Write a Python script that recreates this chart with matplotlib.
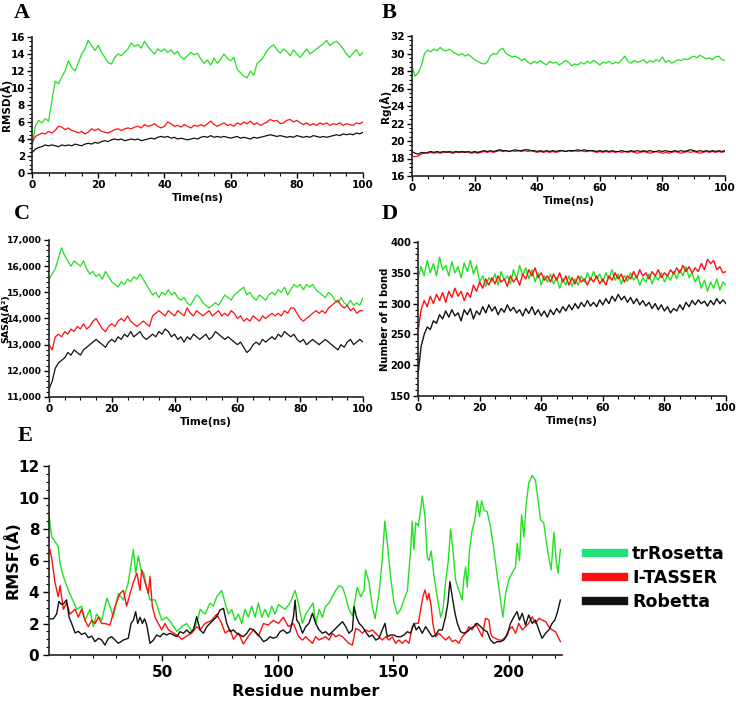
import matplotlib
matplotlib.use("Agg")
import matplotlib.pyplot as plt
from matplotlib.ticker import MultipleLocator, FuncFormatter
from matplotlib.lines import Line2D

plt.rcParams['font.family'] = ['DejaVu Sans']

# ---------------- data ----------------
time_ns = list(range(0, 101))

rmsd_trrosetta = [3.0, 5.5, 6.2, 5.9, 6.4, 6.1, 8.5, 10.8, 10.5, 11.3, 12.0, 13.2, 12.4, 12.0, 13.0, 14.0, 14.6, 15.6, 15.0, 14.4,
                  15.0, 14.2, 13.6, 13.0, 12.8, 13.6, 14.0, 13.8, 14.2, 14.6, 15.3, 14.9, 15.1, 14.7, 15.5, 14.9, 14.4, 14.0, 14.6, 14.3,
                  14.6, 14.2, 14.5, 14.0, 14.3, 13.6, 13.4, 13.8, 14.2, 13.9, 14.1, 13.4, 12.9, 13.3, 12.7, 13.5, 12.9, 13.4, 14.0, 13.5,
                  13.2, 13.6, 12.2, 11.8, 11.4, 11.2, 12.0, 11.5, 12.9, 13.2, 13.7, 14.4, 14.8, 15.1, 14.5, 14.1, 14.6, 14.3, 13.8, 14.5,
                  14.0, 13.6, 14.1, 14.6, 14.0, 14.3, 14.6, 14.9, 15.2, 15.6, 15.0, 15.3, 15.5, 15.1, 14.6, 14.0, 13.6, 14.1, 14.5, 13.8, 14.2]
rmsd_itasser = [3.6, 4.3, 4.5, 4.7, 4.6, 4.9, 4.7, 5.0, 5.5, 5.4, 5.1, 5.3, 5.0, 4.9, 4.7, 4.9, 4.6, 4.8, 5.2, 5.0,
                5.2, 4.9, 4.8, 4.7, 4.9, 5.1, 5.2, 5.0, 5.2, 5.3, 5.2, 5.4, 5.5, 5.3, 5.7, 5.5, 5.6, 5.8, 5.5, 5.3,
                5.5, 6.0, 5.8, 5.5, 5.6, 5.4, 5.7, 5.5, 5.3, 5.6, 5.5, 5.7, 5.5, 5.8, 6.1, 5.7, 5.5, 5.7, 5.9, 5.6,
                5.7, 5.5, 5.9, 5.7, 6.0, 5.8, 6.1, 5.7, 5.9, 5.6, 5.8, 6.0, 6.3, 6.1, 6.2, 5.8, 5.9, 6.2, 6.3, 6.0,
                6.2, 5.9, 5.7, 5.9, 5.6, 5.8, 5.6, 5.9, 5.7, 5.9, 5.6, 5.8, 5.7, 5.9, 5.6, 5.8, 5.7, 5.6, 5.9, 5.8, 6.0]
rmsd_robetta = [2.4, 2.8, 3.0, 3.1, 3.3, 3.2, 3.3, 3.2, 3.1, 3.3, 3.2, 3.3, 3.2, 3.4, 3.3, 3.2, 3.4, 3.5, 3.4, 3.6,
                3.5, 3.7, 3.8, 3.7, 3.9, 4.0, 3.9, 4.0, 3.8, 3.9, 4.0, 3.9, 4.0, 3.8, 3.9, 4.0, 4.1, 4.0, 4.2, 4.3,
                4.2, 4.3, 4.1, 4.2, 4.0, 4.1, 4.0, 3.9, 4.0, 4.1, 4.0, 4.2, 4.3, 4.2, 4.4, 4.2, 4.3, 4.2, 4.3, 4.2,
                4.1, 4.2, 4.3, 4.1, 4.2, 4.1, 4.0, 4.2, 4.1, 4.2, 4.3, 4.4, 4.5, 4.4, 4.3, 4.4, 4.3, 4.2, 4.3, 4.2,
                4.4, 4.3, 4.2, 4.3, 4.2, 4.4, 4.3, 4.2, 4.3, 4.2, 4.3, 4.4, 4.5, 4.4, 4.6, 4.5, 4.6, 4.5, 4.7, 4.6, 4.8]

rg_trrosetta = [28.5, 27.4, 27.8, 28.6, 30.0, 30.4, 30.2, 30.5, 30.3, 30.7, 30.4, 30.3, 30.5, 30.2, 30.0, 29.8, 30.0, 29.7, 29.9, 29.6,
                29.3, 29.1, 28.9, 28.8, 29.0, 29.7, 30.0, 29.9, 30.4, 30.6, 30.0, 29.8, 29.6, 29.7, 29.5, 29.2, 29.4, 29.0, 28.8, 29.1,
                28.9, 29.2, 28.9, 28.7, 29.1, 28.9, 29.0, 28.7, 28.9, 29.2, 29.0, 28.6, 28.8, 28.7, 29.0, 28.8, 29.1, 28.9, 29.2, 29.0,
                28.7, 29.0, 28.9, 29.1, 28.8, 29.0, 28.9, 29.3, 29.7, 29.1, 28.9, 29.2, 29.0, 29.1, 29.3, 28.9, 29.2, 29.0, 29.3, 29.1,
                29.6, 29.0, 29.2, 28.9, 29.1, 29.3, 29.2, 29.4, 29.3, 29.5, 29.7, 29.5, 29.8, 29.6, 29.4, 29.5, 29.3, 29.6, 29.7, 29.3, 29.2]
rg_itasser = [18.3, 18.2, 18.3, 18.5, 18.7, 18.6, 18.7, 18.6, 18.7, 18.6, 18.7, 18.8, 18.7, 18.6, 18.7, 18.8, 18.7, 18.8, 18.7, 18.6,
              18.7, 18.6, 18.7, 18.8, 18.7, 18.8, 18.7, 18.8, 18.9, 18.8, 18.9, 18.8, 18.9, 18.8, 18.9, 18.8, 18.9, 18.8, 18.9, 18.8,
              18.7, 18.8, 18.7, 18.8, 18.7, 18.8, 18.7, 18.8, 18.9, 18.8, 18.9, 18.8, 18.9, 18.8, 18.9, 18.8, 18.8, 18.9, 18.8, 18.7,
              18.8, 18.7, 18.8, 18.7, 18.8, 18.7, 18.8, 18.7, 18.8, 18.7, 18.8, 18.7, 18.6, 18.7, 18.8, 18.7, 18.6, 18.7, 18.8, 18.7,
              18.6, 18.7, 18.6, 18.7, 18.8, 18.7, 18.6, 18.7, 18.8, 18.7, 18.8, 18.7, 18.6, 18.7, 18.8, 18.7, 18.8, 18.7, 18.8, 18.7, 18.8]
rg_robetta = [18.8, 18.6, 18.5, 18.7, 18.6, 18.7, 18.8, 18.7, 18.8, 18.7, 18.8, 18.7, 18.8, 18.7, 18.8, 18.7, 18.8, 18.7, 18.8, 18.7,
              18.8, 18.7, 18.8, 18.9, 18.8, 18.9, 18.8, 18.9, 19.0, 18.9, 18.9, 18.8, 18.9, 19.0, 18.9, 18.9, 19.0, 19.0, 18.9, 18.9,
              18.8, 18.9, 18.8, 18.9, 18.8, 18.9, 18.8, 18.9, 18.9, 18.8, 18.9, 18.9, 18.9, 19.0, 18.9, 19.0, 18.9, 18.9, 18.9, 18.8,
              18.9, 18.8, 18.9, 18.8, 18.9, 18.8, 18.8, 18.9, 18.8, 18.8, 18.9, 18.8, 18.9, 18.8, 18.9, 18.8, 18.9, 18.8, 18.8, 18.9,
              18.8, 18.9, 18.8, 18.8, 18.9, 18.8, 18.9, 18.8, 18.9, 19.0, 18.9, 18.8, 18.9, 18.8, 18.9, 18.8, 18.9, 18.8, 18.9, 18.8, 18.9]

sasa_trrosetta = [15500, 15700, 15900, 16300, 16700, 16400, 16200, 16000, 16200, 16100, 16000, 16200, 15900, 15700, 15800, 15600, 15700, 15500, 15800, 15600,
                  15400, 15300, 15200, 15400, 15300, 15500, 15400, 15600, 15500, 15700, 15500, 15300, 15100, 14900, 15000, 14800, 15000, 14900, 15100, 14900,
                  15000, 14800, 14700, 14800, 14600, 14500, 14700, 14900, 14800, 14600, 14500, 14400, 14500, 14600, 14500, 14700, 14900, 14800, 14700, 14900,
                  15000, 15100, 15200, 14900, 15000, 14800, 14700, 14900, 14800, 14700, 14900, 15000, 14900, 15100, 15000, 15200, 14900, 15100, 15300, 15200,
                  15300, 15100, 15300, 15200, 15300, 15100, 15000, 14900, 14800, 15000, 14900, 14700, 14600, 14800, 14600, 14500, 14700, 14500, 14600, 14500, 14800]
sasa_itasser = [13000, 12800, 13300, 13400, 13300, 13500, 13400, 13600, 13500, 13700, 13600, 13800, 13600, 13700, 13900, 14000, 13800, 13600, 13500, 13700,
                13800, 13700, 13900, 14000, 13900, 14100, 13900, 13800, 13700, 13800, 13900, 13800, 13700, 14100, 14200, 14300, 14200, 14100, 14300, 14200,
                14100, 14300, 14200, 14100, 14400, 14200, 14100, 14300, 14200, 14100, 14200, 14300, 14100, 14200, 14300, 14100, 14200, 14100, 14300, 14200,
                14000, 14100, 13900, 14000, 13900, 14100, 14000, 13900, 14100, 14000, 14100, 14200, 14100, 14200, 14100, 14300, 14200, 14400, 14400, 14200,
                14000, 13900, 14000, 14100, 14200, 14300, 14200, 14300, 14200, 14400, 14500, 14600, 14700, 14500, 14400, 14500, 14300, 14400, 14200, 14300, 14300]
sasa_robetta = [11300, 11600, 12100, 12300, 12400, 12500, 12700, 12600, 12800, 12700, 12600, 12800, 12900, 13000, 13100, 13200, 13100, 13000, 12900, 13100,
                13200, 13100, 13300, 13200, 13400, 13300, 13500, 13300, 13400, 13500, 13300, 13200, 13300, 13400, 13300, 13500, 13400, 13600, 13500, 13300,
                13400, 13200, 13300, 13100, 13300, 13200, 13400, 13300, 13200, 13300, 13400, 13200, 13300, 13500, 13400, 13300, 13200, 13300, 13200, 13100,
                13000, 13100, 12900, 12700, 12800, 13000, 13100, 13000, 13200, 13100, 13200, 13300, 13200, 13400, 13300, 13500, 13400, 13300, 13400, 13200,
                13100, 13200, 13000, 13100, 13200, 13100, 13000, 13100, 13200, 13100, 13000, 12900, 12800, 13000, 12900, 13100, 13200, 13000, 13100, 13200, 13100]

hb_trrosetta = [340, 360, 345, 370, 350, 365, 345, 375, 355, 362, 345, 368, 350, 360, 342, 366, 352, 370, 348, 362,
                335, 345, 328, 342, 336, 348, 330, 352, 338, 345, 332, 355, 340, 362, 345, 358, 340, 355, 335, 350,
                330, 345, 335, 348, 332, 342, 325, 340, 330, 345, 328, 340, 330, 345, 335, 350, 338, 352, 340, 348,
                335, 350, 340, 355, 338, 348, 332, 346, 336, 350, 338, 345, 330, 342, 335, 348, 332, 345, 338, 350,
                335, 346, 338, 352, 340, 355, 345, 360, 342, 350, 335, 345, 325, 338, 320, 335, 325, 340, 322, 335, 330]
hb_itasser = [255, 290, 305, 295, 312, 300, 315, 305, 318, 302, 320, 310, 325, 312, 320, 305, 318, 310, 330, 320,
              335, 325, 340, 330, 342, 332, 345, 335, 340, 328, 345, 335, 342, 330, 348, 340, 355, 345, 358, 342,
              350, 338, 345, 335, 348, 338, 350, 335, 345, 330, 342, 332, 345, 335, 340, 330, 342, 335, 345, 332,
              340, 330, 345, 338, 350, 340, 348, 335, 345, 340, 352, 342, 355, 345, 350, 340, 352, 345, 355, 342,
              350, 345, 355, 348, 358, 350, 362, 352, 360, 350, 358, 352, 365, 355, 372, 365, 370, 355, 360, 350, 352]
hb_robetta = [185, 230, 250, 262, 258, 272, 268, 282, 275, 288, 278, 290, 280, 285, 272, 290, 282, 292, 275, 288,
              282, 295, 285, 298, 288, 295, 282, 292, 286, 298, 288, 294, 285, 290, 280, 292, 284, 295, 282, 290,
              280, 288, 278, 290, 282, 292, 285, 295, 288, 298, 290, 300, 292, 302, 295, 305, 296, 302, 295, 306,
              298, 308, 300, 312, 304, 315, 306, 312, 302, 310, 300, 308, 298, 305, 296, 302, 292, 300, 290, 298,
              288, 295, 285, 292, 288, 298, 290, 302, 295, 305, 298, 306, 300, 304, 296, 305, 298, 308, 300, 306, 300]

# RMSF per residue
res_trrosetta = [1, 2.2, 5.0, 5.8, 7.2, 9.4, 11.5, 13.0, 15.1, 16.6, 18.7, 20.2, 21.6, 23.8, 26.0, 27.4, 28.8, 31.0, 33.2, 35.3,
                 37.5, 38.5, 39.7, 40.8, 42.0, 43.3, 44.7, 46.9, 48.3, 49.8, 51.9, 54.1, 56.3, 58.4, 60.6, 62.8, 64.9, 66.4, 68.5, 70.7,
                 72.1, 73.6, 75.7, 77.2, 78.6, 80.1, 81.5, 83.0, 84.4, 85.8, 87.3, 88.7, 90.2, 91.6, 93.1, 94.5, 95.9, 97.4, 98.8, 100.3,
                 103.2, 105.3, 107.5, 108.9, 110.7, 112.1, 113.5, 115.3, 116.4, 117.9, 119.3, 120.7, 122.2, 123.6, 125.1, 126.5, 128.0, 129.4, 130.8, 132.3,
                 133.7, 134.4, 135.9, 137.3, 138.0, 139.5, 140.9, 142.1, 143.8, 145.2, 146.3, 147.4, 148.8, 150.3, 151.7, 153.2, 154.6, 156.1, 157.5, 158.2,
                 158.9, 159.7, 160.8, 161.8, 162.5, 163.7, 164.7, 165.4, 166.4, 167.6, 169.0, 170.5, 171.5, 172.6, 173.8, 174.8, 175.8, 176.9, 178.4, 179.8,
                 180.5, 181.3, 182.0, 183.0, 184.1, 185.3, 186.3, 187.3, 188.2, 189.3, 190.6, 192.1, 193.5, 195.0, 196.4, 197.4, 198.6, 200.0, 201.4, 202.9,
                 203.6, 204.6, 205.5, 206.5, 207.5, 208.6, 210.1, 211.5, 212.7, 213.7, 215.1, 216.1, 217.3, 218.3, 219.5, 220.5, 221.3, 222.3]
rmsf_trrosetta = [8.9, 7.5, 6.9, 5.8, 5.0, 4.1, 3.4, 2.9, 3.1, 2.2, 2.9, 1.8, 2.6, 2.2, 3.6, 3.1, 2.4, 3.9, 3.5, 4.6,
                  6.7, 5.2, 6.3, 5.4, 5.2, 4.3, 3.5, 3.5, 2.9, 2.2, 2.4, 2.0, 1.5, 1.8, 2.0, 1.5, 2.0, 2.9, 2.6, 3.3,
                  3.1, 3.7, 4.1, 3.3, 2.6, 2.9, 2.2, 2.6, 2.0, 2.9, 2.4, 3.1, 2.4, 3.3, 2.4, 2.9, 2.4, 3.1, 2.6, 3.2,
                  2.9, 3.3, 4.1, 3.3, 2.0, 2.6, 2.9, 3.3, 2.0, 2.9, 2.4, 3.1, 3.3, 3.7, 4.1, 4.4, 4.3, 3.7, 2.9, 2.5,
                  3.7, 4.3, 3.7, 4.1, 5.4, 4.6, 3.1, 2.3, 3.9, 6.0, 8.5, 7.1, 5.0, 3.3, 2.6, 2.9, 3.5, 4.1, 6.7, 8.5,
                  6.7, 8.4, 8.2, 9.2, 10.1, 8.8, 6.2, 6.0, 6.6, 5.0, 3.7, 2.4, 2.9, 4.6, 6.0, 8.0, 6.7, 4.8, 4.1, 3.5,
                  4.8, 5.6, 4.3, 6.7, 7.9, 8.6, 9.8, 8.8, 9.8, 9.2, 9.1, 8.1, 6.7, 5.0, 3.5, 2.4, 3.9, 4.8, 5.2, 5.6,
                  7.1, 6.0, 8.9, 7.5, 9.6, 10.9, 11.4, 11.1, 9.8, 8.6, 8.4, 7.3, 6.2, 5.4, 7.8, 6.0, 5.2, 6.7]

res_itasser = [1.4, 2.2, 3.6, 5.0, 5.8, 7.2, 8.6, 10.1, 12.3, 13.7, 15.1, 16.6, 18.0, 19.5, 20.9, 22.4, 23.8, 25.2, 27.4, 29.6,
               31.7, 33.2, 34.6, 36.1, 37.5, 39.0, 40.4, 41.1, 42.6, 44.0, 44.7, 45.7, 46.9, 48.3, 49.8, 51.2, 52.7, 54.8, 57.0, 58.4,
               60.6, 62.8, 64.9, 66.4, 68.5, 71.4, 73.6, 75.7, 77.2, 79.4, 80.8, 83.0, 85.1, 87.3, 89.5, 91.6, 93.8, 95.9, 98.1, 100.3,
               102.4, 104.6, 106.8, 108.9, 110.7, 112.1, 113.5, 115.0, 116.4, 117.9, 119.3, 120.7, 122.2, 123.6, 125.1, 126.5, 128.0, 129.4, 130.8, 132.3,
               133.7, 135.2, 136.6, 138.0, 139.5, 140.9, 142.4, 143.8, 145.2, 146.7, 148.1, 149.6, 151.0, 152.4, 153.9, 155.3, 156.8, 158.2, 159.7, 160.8,
               161.8, 162.8, 163.7, 164.7, 165.4, 166.4, 167.1, 168.3, 169.7, 171.2, 172.6, 174.1, 175.5, 176.9, 178.4, 179.8, 181.3, 182.7, 184.1, 185.6,
               187.0, 188.5, 189.9, 191.4, 192.1, 192.8, 194.2, 195.7, 197.1, 198.6, 200.0, 201.4, 202.9, 204.3, 205.8, 207.2, 208.6, 210.1, 211.5, 213.0,
               214.4, 215.9, 217.3, 218.7, 220.2, 222.3]
rmsf_itasser = [6.7, 6.1, 4.6, 3.7, 4.4, 2.9, 3.3, 2.6, 2.9, 2.4, 2.9, 2.2, 1.8, 2.2, 2.0, 2.4, 2.0, 2.0, 1.9, 3.1,
                3.9, 4.1, 3.1, 3.9, 4.6, 5.2, 4.1, 5.4, 4.6, 3.9, 5.0, 3.1, 2.4, 2.0, 1.6, 2.0, 1.6, 1.4, 1.2, 1.0,
                1.2, 1.4, 1.8, 1.6, 2.0, 2.2, 2.6, 2.0, 1.4, 1.6, 1.0, 1.4, 0.7, 1.2, 1.6, 1.2, 2.0, 1.9, 2.2, 2.0,
                2.4, 1.8, 2.0, 1.2, 0.95, 1.16, 0.95, 0.74, 1.16, 0.95, 1.06, 1.16, 0.95, 1.38, 1.16, 1.27, 1.16, 0.95, 0.74, 0.63,
                1.69, 1.59, 1.38, 1.59, 1.48, 1.59, 1.38, 1.16, 0.95, 1.16, 0.95, 1.16, 0.74, 0.95, 0.74, 0.95, 0.74, 1.80, 2.01, 2.01,
                2.86, 3.70, 4.13, 3.49, 3.92, 3.07, 2.01, 1.16, 1.38, 1.16, 0.95, 1.16, 0.85, 0.95, 0.74, 1.16, 1.38, 1.80, 1.59, 2.01,
                1.59, 1.16, 2.33, 2.22, 1.38, 1.16, 1.06, 0.95, 0.95, 1.16, 1.59, 1.80, 1.38, 2.01, 1.59, 1.80, 2.01, 2.43, 2.01, 2.33,
                2.22, 2.12, 1.80, 1.59, 1.48, 0.85]

res_robetta = [1.4, 2.9, 4.3, 5.3, 6.5, 7.6, 8.6, 9.7, 10.8, 12.3, 13.7, 15.1, 16.6, 18.0, 19.5, 20.9, 22.4, 23.8, 25.2, 26.7,
               28.1, 29.6, 31.0, 33.2, 35.3, 36.5, 37.5, 38.5, 39.4, 40.4, 41.4, 42.3, 43.3, 44.7, 46.2, 47.6, 49.1, 50.5, 51.9, 53.4,
               54.8, 56.3, 57.7, 59.2, 60.6, 62.0, 63.5, 64.9, 66.4, 67.8, 69.3, 70.7, 72.1, 73.6, 75.0, 76.5, 77.9, 79.4, 80.8, 82.2,
               83.7, 85.1, 86.6, 88.0, 89.5, 90.9, 92.3, 93.8, 95.2, 96.7, 98.1, 99.6, 101.0, 102.4, 103.9, 105.3, 106.8, 107.5, 108.2, 109.2,
               110.7, 112.1, 113.5, 115.0, 116.4, 117.9, 119.3, 120.7, 122.2, 123.6, 125.1, 126.5, 128.0, 129.4, 130.8, 132.3, 133.0, 134.0, 135.2, 136.6,
               138.0, 139.5, 140.9, 142.4, 143.8, 145.2, 146.4, 147.4, 148.8, 150.3, 151.7, 153.2, 154.6, 156.1, 157.5, 158.9, 159.9, 161.1, 162.5, 164.0,
               165.4, 166.9, 168.3, 169.7, 171.2, 172.6, 173.6, 174.5, 175.5, 176.7, 177.7, 179.1, 180.5, 182.0, 183.4, 184.9, 186.3, 187.8, 189.2, 190.6,
               192.1, 193.5, 195.0, 196.4, 197.8, 199.3, 200.7, 202.2, 203.6, 204.6, 205.8, 207.2, 208.6, 210.1, 211.5, 213.0, 214.4, 215.9, 217.3, 218.7,
               219.9, 220.9, 222.3]
rmsf_robetta = [2.3, 2.3, 2.6, 3.4, 3.2, 3.3, 3.5, 2.4, 2.0, 1.4, 1.5, 1.3, 1.4, 1.1, 1.2, 0.85, 1.06, 0.95, 0.63, 1.06,
                1.16, 0.95, 0.74, 0.95, 1.06, 2.0, 2.2, 2.75, 2.0, 2.4, 2.0, 2.3, 1.9, 0.74, 0.95, 1.27, 1.16, 1.38, 1.27, 1.38,
                1.27, 1.16, 1.48, 1.38, 1.59, 1.38, 1.59, 2.43, 1.59, 1.38, 1.80, 2.01, 2.22, 2.43, 2.86, 2.96, 2.01, 1.48, 1.59, 1.38,
                1.27, 1.16, 1.38, 1.69, 1.59, 1.38, 1.16, 0.85, 0.95, 1.16, 1.06, 1.16, 1.48, 1.59, 1.38, 1.48, 2.43, 3.49, 2.22, 2.01,
                1.38, 1.80, 2.01, 2.65, 2.01, 1.59, 1.38, 1.48, 1.27, 1.48, 1.69, 1.90, 2.12, 1.80, 1.38, 1.59, 3.07, 2.43, 2.01, 1.80,
                1.48, 1.16, 1.27, 0.95, 1.06, 1.59, 2.01, 1.16, 1.27, 1.27, 1.16, 1.16, 1.27, 1.48, 1.38, 2.01, 1.59, 1.80, 1.38, 1.80,
                1.48, 1.16, 1.27, 1.59, 1.59, 2.43, 3.28, 4.66, 3.70, 2.65, 2.01, 1.48, 1.38, 1.48, 1.69, 1.80, 2.01, 1.80, 1.59, 1.48,
                0.95, 0.74, 0.85, 0.85, 0.95, 1.27, 2.01, 2.43, 2.75, 2.22, 2.65, 1.90, 2.54, 2.01, 2.22, 1.59, 1.06, 1.38, 1.59, 2.01,
                2.22, 2.65, 3.49]

model_names = ["trRosetta", "I-TASSER", "Robetta"]

# ---------------- style ----------------
GREEN = "#22E022"
RED = "#FF1010"
BLACK = "#111111"
LEG_GREEN = "#22E07A"

W, H = 736, 701
fig = plt.figure(figsize=(W / 100, H / 100), dpi=100)


def frac(l, t, r, b):
    return [l / W, 1 - b / H, (r - l) / W, (b - t) / H]


def style(ax, fs):
    for s in ("top", "right"):
        ax.spines[s].set_visible(False)
    for s in ("left", "bottom"):
        ax.spines[s].set_linewidth(1.2)
        ax.spines[s].set_color("#222222")
    ax.tick_params(which="major", direction="out", length=3.5, width=1.0, labelsize=fs, pad=1.5)
    ax.tick_params(which="minor", direction="out", length=2, width=0.8)
    for lab in ax.get_xticklabels() + ax.get_yticklabels():
        lab.set_fontweight("bold")


def place_ylabel(ax, rect, right_px):
    # y label's anchor (its right-hand side once rotated) at a figure pixel x
    ax.yaxis.set_label_coords((right_px - rect[0]) / (rect[2] - rect[0]), 0.5)


def time_panel(rect, g, r, k, ylim, ymaj, ymin, ylabel, label_right, fmt=None, lw=0.9,
               ylfs=7.5, ytfs=7.5):
    ax = fig.add_axes(frac(*rect))
    ax.plot(time_ns, g, color=GREEN, lw=lw)
    ax.plot(time_ns, r, color=RED, lw=lw)
    ax.plot(time_ns, k, color=BLACK, lw=lw)
    ax.set_xlim(0, 100)
    ax.set_ylim(*ylim)
    ax.xaxis.set_major_locator(MultipleLocator(20))
    ax.xaxis.set_minor_locator(MultipleLocator(5))
    ax.yaxis.set_major_locator(MultipleLocator(ymaj))
    ax.yaxis.set_minor_locator(MultipleLocator(ymin))
    if fmt is not None:
        ax.yaxis.set_major_formatter(fmt)
    style(ax, 7.5)
    ax.tick_params(axis="y", which="major", labelsize=ytfs)
    ax.set_xlabel("Time(ns)", fontsize=7.5, fontweight="bold", labelpad=2)
    ax.set_ylabel(ylabel, fontsize=ylfs, fontweight="bold")
    place_ylabel(ax, rect, label_right)
    return ax


time_panel((32, 37, 363, 173), rmsd_trrosetta, rmsd_itasser, rmsd_robetta, (0, 16), 2, 0.5, "RMSD(Å)", 12)
time_panel((412, 36, 725, 176), rg_trrosetta, rg_itasser, rg_robetta, (16, 32), 2, 0.5, "Rg(Å)", 391)
time_panel((49, 240, 363, 397), sasa_trrosetta, sasa_itasser, sasa_robetta, (11000, 17000), 1000, 200, "SASA(Å²)", 10,
           fmt=FuncFormatter(lambda v, p: f"{v:,.0f}"), ylfs=6.8, ytfs=6.6)
time_panel((418, 242, 726, 396), hb_trrosetta, hb_itasser, hb_robetta, (150, 400), 50, 10, "Number of H bond", 390,
           lw=1.0, ylfs=7.2, ytfs=7.2)

# Panel E
rectE = (49, 466, 562, 655)
axE = fig.add_axes(frac(*rectE))
axE.plot(res_trrosetta, rmsf_trrosetta, color=GREEN, lw=1.0)
axE.plot(res_itasser, rmsf_itasser, color=RED, lw=1.0)
axE.plot(res_robetta, rmsf_robetta, color=BLACK, lw=1.0)
axE.set_xlim(1, 223)
axE.set_ylim(0, 12)
axE.xaxis.set_major_locator(MultipleLocator(50))
axE.xaxis.set_minor_locator(MultipleLocator(10))
axE.yaxis.set_major_locator(MultipleLocator(2))
axE.yaxis.set_minor_locator(MultipleLocator(0.5))
style(axE, 11)
axE.tick_params(which="major", length=4, pad=3)
axE.set_xlabel("Residue number", fontsize=11.5, fontweight="bold", labelpad=3)
axE.set_ylabel("RMSF(Å)", fontsize=11.5, fontweight="bold")
place_ylabel(axE, rectE, 21)

handles = [Line2D([], [], color=c, lw=6) for c in (LEG_GREEN, RED, BLACK)]
fig.legend(handles, model_names, loc="center left", bbox_to_anchor=(0.775, 1 - 578 / H),
           frameon=False, prop={"weight": "bold", "size": 12.5}, handlelength=2.2,
           handletextpad=0.45, labelspacing=0.35)

# panel letters
for letter, x, y in (("A", 14, 13), ("B", 382, 13), ("C", 14, 214), ("D", 382, 214), ("E", 18, 436)):
    fig.text(x / W, 1 - y / H, letter, fontsize=16, fontweight="bold", family="Liberation Serif",
             va="center", ha="left")

fig.savefig("out.png", dpi=100)
